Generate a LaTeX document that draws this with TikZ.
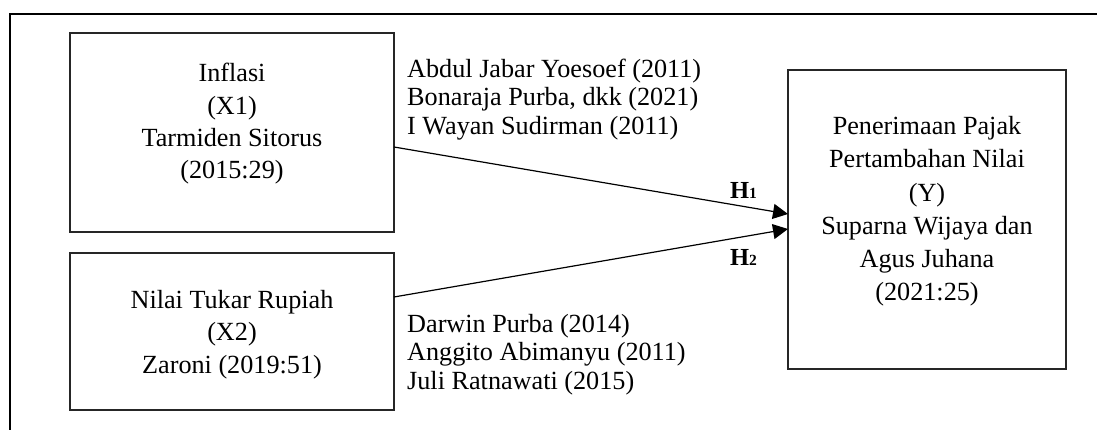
\documentclass[tikz,border=0pt]{standalone}
\usepackage{fontspec}
\setmainfont{Liberation Serif}
\usetikzlibrary{arrows.meta}
\begin{document}
\begin{tikzpicture}[x=1pt,y=-1pt,
  box/.style={draw=black!85,line width=1.3pt,rectangle,inner sep=0pt,outer sep=0pt},
  txt/.style={inner sep=0pt,align=center,font=\fontsize{26.2}{32.3}\selectfont},
  lbl/.style={inner sep=0pt,align=left,anchor=west,font=\fontsize{26.2}{28.5}\selectfont},
  hyp/.style={inner sep=0pt,font=\fontsize{24.5}{29}\selectfont\bfseries},
  arr/.style={line width=1.2pt,-{Triangle[length=15pt,width=15pt]}}]
\useasboundingbox (0,0) rectangle (1097,430);
\draw[line width=2pt] (10,430) -- (10,14) -- (1097,14);
\node[box,minimum width=324pt,minimum height=199pt] (b1) at (232,132.5) {};
\node[box,minimum width=324pt,minimum height=157pt] (b2) at (232,331.5) {};
\node[box,minimum width=278pt,minimum height=299pt] (b3) at (927,219.5) {};
\node[txt] (t1) at (232,124) {Inflasi\\(X1)\\Tarmiden Sitorus\\(2015:29)};
\node[txt] (t2) at (232,334.5) {Nilai Tukar Rupiah\\(X2)\\Zaroni (2019:51)};
\node[txt,font=\fontsize{26.2}{33.1}\selectfont] (t3) at (927,211.3) {Penerimaan Pajak\\Pertambahan Nilai\\(Y)\\Suparna Wijaya dan\\Agus Juhana\\(2021:25)};
\node[lbl] (l1) at (407,99.4) {Abdul Jabar Yoesoef (2011)\\Bonaraja Purba, dkk (2021)\\I Wayan Sudirman (2011)};
\node[lbl] (l2) at (407,354.3) {Darwin Purba (2014)\\Anggito Abimanyu (2011)\\Juli Ratnawati (2015)};
\node[hyp] (h1) at (743.5,190) {H{\fontsize{15.5}{15}\selectfont 1}};
\node[hyp] (h2) at (743.5,257.5) {H{\fontsize{15.5}{15}\selectfont 2}};
\draw[arr] ([yshift=-14.5pt]b1.east) -- ([yshift=5.5pt]b3.west);
\draw[arr] ([yshift=34.5pt]b2.east) -- ([yshift=-9.5pt]b3.west);
\end{tikzpicture}
\end{document}
